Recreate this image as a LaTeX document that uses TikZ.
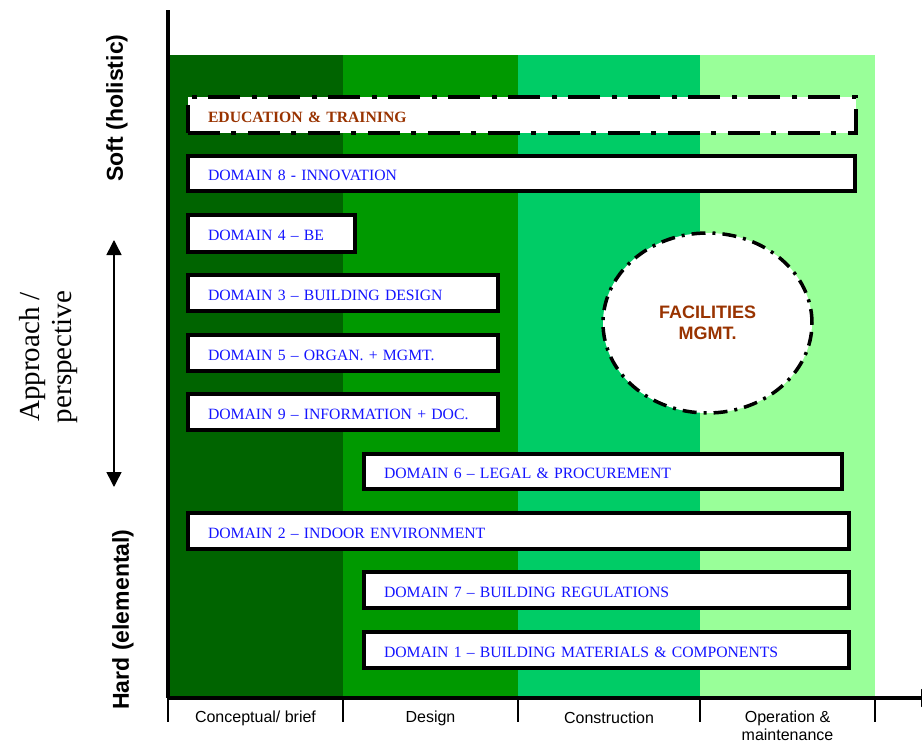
\documentclass[tikz,border=0pt]{standalone}
\usepackage{fontspec}
\setmainfont{Liberation Serif}
\newfontfamily\arial{Liberation Sans}
\usetikzlibrary{arrows.meta,shapes.geometric}

\definecolor{phaseA}{RGB}{0,100,0}
\definecolor{phaseB}{RGB}{0,153,0}
\definecolor{phaseC}{RGB}{0,204,102}
\definecolor{phaseD}{RGB}{153,255,153}
\definecolor{domblue}{RGB}{20,20,255}
\definecolor{rust}{RGB}{153,51,0}

\tikzset{
  dombox/.style={draw=black, line width=4pt, fill=white, anchor=west, outer sep=0pt,
    inner xsep=20pt, inner ysep=0pt, align=left, text=domblue,
    text height=14.5pt, text depth=0pt,
    font=\fontsize{15.7}{19}\selectfont},
  dashdotbox/.style={dombox, dash pattern=on 32pt off 11pt on 5pt off 12pt},
  phaselabel/.style={font=\arial\fontsize{16}{18}\selectfont, align=center, inner sep=0pt},
  tick/.style={line width=1.5pt},
  axisline/.style={line width=4pt},
  sidelabel/.style={rotate=90, font=\arial\bfseries\fontsize{23}{26}\selectfont, inner sep=0pt}
}

\begin{document}
\begin{tikzpicture}[x=1pt, y=-1pt]
\useasboundingbox (0,0) rectangle (922,744);

% life-cycle phase bands
\fill[phaseA] (168,55) rectangle (343,698);
\fill[phaseB] (343,55) rectangle (518,698);
\fill[phaseC] (518,55) rectangle (700,698);
\fill[phaseD] (700,55) rectangle (875,698);

% axes
\coordinate (ytop) at (168,10);
\coordinate (origin) at (168,698);
\coordinate (xend) at (936,698);
\draw[axisline] (ytop) -- (origin);
\draw[axisline, -{Triangle[length=15pt,width=17pt]}] (origin) -- (xend);

% phase ticks
\foreach \tx/\tn in {168/t0, 343/t1, 518/t2, 700/t3, 875/t4} {
  \coordinate (\tn a) at (\tx,698);
  \coordinate (\tn b) at (\tx,722);
  \draw[tick] (\tn a) -- (\tn b);
}

% phase labels
\node[phaselabel] (p1) at (255.5,718) {Conceptual/ brief};
\node[phaselabel] (p2) at (430.5,718) {Design};
\node[phaselabel] (p3) at (609,718) {Construction};
\node[phaselabel, anchor=north] (p4) at (787.5,710.5) {Operation \&\\maintenance};

% domain boxes
\node[dashdotbox, text=rust, font=\bfseries\fontsize{15.7}{19}\selectfont,
      text width=628pt, minimum height=36pt] (edu) at (188,115) {EDUCATION \& TRAINING};
\node[dombox, text width=627pt, minimum height=35pt] (d8) at (188,173.5) {DOMAIN 8 - INNOVATION};
\node[dombox, text width=127pt, minimum height=37pt] (d4) at (188,233.5) {DOMAIN 4 – BE};
\node[dombox, text width=270pt, minimum height=36pt] (d3) at (188,293) {DOMAIN 3 – BUILDING DESIGN};
\node[dombox, text width=270pt, minimum height=36pt] (d5) at (188,353) {DOMAIN 5 – ORGAN. + MGMT.};
\node[dombox, text width=270pt, minimum height=36pt] (d9) at (188,412) {DOMAIN 9 – INFORMATION + DOC.};
\node[dombox, text width=438pt, minimum height=35pt] (d6) at (364,471.5) {DOMAIN 6 – LEGAL \& PROCUREMENT};
\node[dombox, text width=621pt, minimum height=36pt] (d2) at (188,531) {DOMAIN 2 – INDOOR ENVIRONMENT};
\node[dombox, text width=445pt, minimum height=36pt] (d7) at (364,590) {DOMAIN 7 – BUILDING REGULATIONS};
\node[dombox, text width=445pt, minimum height=36pt] (d1) at (364,650) {DOMAIN 1 – BUILDING MATERIALS \& COMPONENTS};

% facilities management
\node[ellipse, draw=black, fill=white, line width=3.5pt,
      dash pattern=on 14pt off 7pt on 3pt off 7pt,
      minimum width=209pt, minimum height=180pt, inner sep=0pt,
      align=center, text=rust, font=\arial\bfseries\fontsize{18}{21}\selectfont]
  (fm) at (707.5,323) {FACILITIES\\MGMT.};

% approach axis
\node[sidelabel] (soft) at (117,108) {Soft (holistic)};
\node[sidelabel] (hard) at (123,619.5) {Hard (elemental)};
\node[rotate=90, align=center, inner sep=0pt, font=\fontsize{29}{32}\selectfont]
  (appr) at (49,357) {Approach /\\perspective};
\coordinate (arrtop) at (114,240);
\coordinate (arrbot) at (114,487);
\draw[line width=1.5pt, {Triangle[length=15pt,width=15pt]}-{Triangle[length=15pt,width=15pt]}] (arrtop) -- (arrbot);

\end{tikzpicture}
\end{document}
